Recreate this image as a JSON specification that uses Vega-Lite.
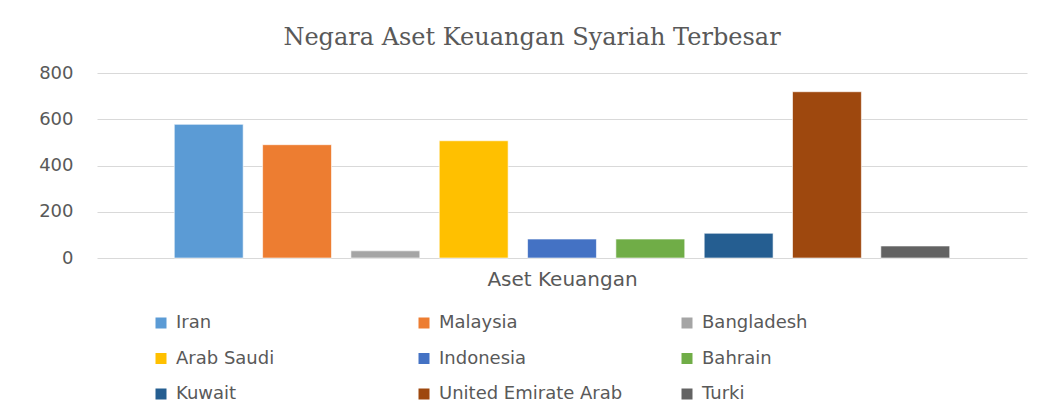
{
  "$schema": "https://vega.github.io/schema/vega-lite/v6.json",
  "width": 930,
  "height": 185,
  "autosize": {"type": "none"},
  "padding": {"left": 97, "top": 73, "right": 28, "bottom": 156},
  "background": "white",
  "title": {
    "text": "Negara Aset Keuangan Syariah Terbesar",
    "font": "DejaVu Serif",
    "fontSize": 24,
    "fontWeight": "normal",
    "color": "#595959",
    "offset": 14,
    "dx": -30
  },
  "data": {
    "values": [
      {"kategori": "Aset Keuangan", "negara": "Iran", "nilai": 578},
      {"kategori": "Aset Keuangan", "negara": "Malaysia", "nilai": 490},
      {"kategori": "Aset Keuangan", "negara": "Bangladesh", "nilai": 31},
      {"kategori": "Aset Keuangan", "negara": "Arab Saudi", "nilai": 507},
      {"kategori": "Aset Keuangan", "negara": "Indonesia", "nilai": 82},
      {"kategori": "Aset Keuangan", "negara": "Bahrain", "nilai": 82},
      {"kategori": "Aset Keuangan", "negara": "Kuwait", "nilai": 107},
      {"kategori": "Aset Keuangan", "negara": "United Emirate Arab", "nilai": 719},
      {"kategori": "Aset Keuangan", "negara": "Turki", "nilai": 52}
    ]
  },
  "mark": {"type": "bar", "stroke": "white", "strokeWidth": 1, "strokeOpacity": 0.6},
  "encoding": {
    "x": {
      "field": "kategori",
      "type": "nominal",
      "scale": {"paddingInner": 0, "paddingOuter": 0.085},
      "axis": {
        "title": "Aset Keuangan",
        "labels": false,
        "ticks": false,
        "domain": false,
        "titleFont": "DejaVu Sans",
        "titleFontSize": 20,
        "titleFontWeight": "normal",
        "titleColor": "#595959",
        "titlePadding": 11
      }
    },
    "xOffset": {
      "field": "negara",
      "type": "nominal",
      "sort": null,
      "scale": {"paddingInner": 0.22, "paddingOuter": 0.11}
    },
    "y": {
      "field": "nilai",
      "type": "quantitative",
      "scale": {"domain": [0, 800], "nice": false},
      "axis": {
        "title": null,
        "values": [0, 200, 400, 600, 800],
        "domain": false,
        "ticks": false,
        "grid": true,
        "gridColor": "#D9D9D9",
        "gridWidth": 1,
        "labelFont": "DejaVu Sans",
        "labelFontSize": 18,
        "labelColor": "#595959",
        "labelPadding": 24
      }
    },
    "color": {
      "field": "negara",
      "type": "nominal",
      "sort": null,
      "scale": {
        "domain": ["Iran", "Malaysia", "Bangladesh", "Arab Saudi", "Indonesia", "Bahrain", "Kuwait", "United Emirate Arab", "Turki"],
        "range": ["#5B9BD5", "#ED7D31", "#A5A5A5", "#FFC000", "#4472C4", "#70AD47", "#255E91", "#9E480E", "#636363"]
      },
      "legend": {
        "title": null,
        "orient": "none",
        "legendX": 55,
        "legendY": 241,
        "direction": "horizontal",
        "columns": 3,
        "gridAlign": "all",
        "columnPadding": 55,
        "rowPadding": 17.5,
        "padding": 0,
        "symbolType": "square",
        "symbolSize": 121,
        "symbolStrokeWidth": 0,
        "labelFont": "DejaVu Sans",
        "labelFontSize": 18,
        "labelColor": "#595959",
        "labelOffset": 6,
        "labelLimit": 300
      }
    }
  },
  "config": {
    "view": {"stroke": null}
  }
}
